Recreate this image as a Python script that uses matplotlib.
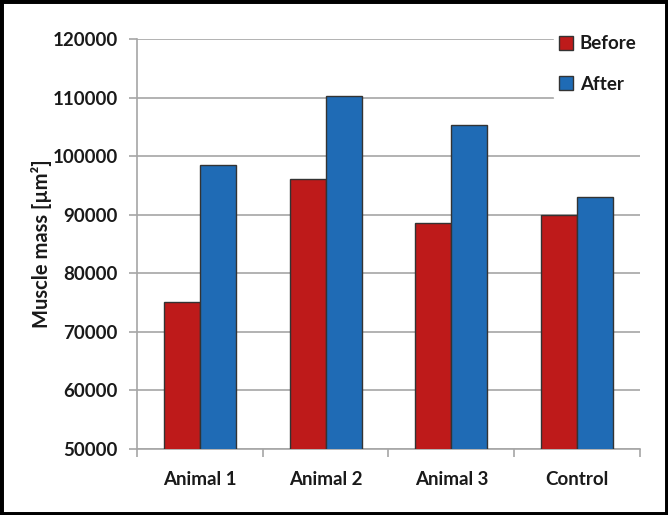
import matplotlib.pyplot as plt
import numpy as np
from matplotlib.patches import Rectangle

categories = ["Animal 1", "Animal 2", "Animal 3", "Control"]
before = [75000, 96100, 88600, 90000]
after = [98500, 110300, 105400, 93000]

plt.rcParams["font.family"] = ["Lato", "DejaVu Sans"]
plt.rcParams["font.weight"] = "bold"

fig = plt.figure(figsize=(6.68, 5.15), dpi=100)
ax = fig.add_axes([0.205, 0.129, 0.753, 0.795])

x = np.arange(len(categories))
w = 0.286
edge = "#333333"
ax.bar(x - w / 2, before, w, color="#BE1A1A", edgecolor=edge, linewidth=1.0, label="Before", zorder=3)
ax.bar(x + w / 2, after, w, color="#1F6BB5", edgecolor=edge, linewidth=1.0, label="After", zorder=3)

ax.set_xlim(-0.5, len(categories) - 0.5)
ax.set_ylim(50000, 120000)
ax.set_yticks(np.arange(50000, 120001, 10000))
ax.grid(axis="y", color="#A6A6A6", linewidth=1.2, zorder=0)

grey = "#A6A6A6"
text_col = "#1a1a1a"
for s in ["top", "right"]:
    ax.spines[s].set_visible(False)
for s in ["left", "bottom"]:
    ax.spines[s].set_color(grey)
    ax.spines[s].set_linewidth(1.2)

ax.set_xticks(x)
ax.set_xticklabels(categories)
ax.set_xticks(np.arange(-0.5, len(categories)), minor=True)
ax.tick_params(axis="x", which="major", length=0, pad=16, labelsize=13.5, colors=text_col)
ax.tick_params(axis="x", which="minor", length=6, width=1.2, color=grey)
ax.tick_params(axis="y", length=6, width=1.2, color=grey, labelsize=13.5, pad=8, labelcolor=text_col)
for lab in ax.get_xticklabels() + ax.get_yticklabels():
    lab.set_fontweight("bold")

ax.set_ylabel("Muscle mass [µm²]", fontsize=14.5, fontweight="bold", color=text_col, labelpad=0)

leg = ax.legend(loc="upper left", bbox_to_anchor=(0.81, 1.046), frameon=True, fancybox=False,
                edgecolor="white", framealpha=1, fontsize=13.5, handlelength=0.75,
                handleheight=0.75, handletextpad=0.35, labelspacing=1.25, borderpad=0.3)
for t in leg.get_texts():
    t.set_fontweight("bold")
    t.set_color(text_col)

fig.patches.append(Rectangle((0, 0), 1, 1, transform=fig.transFigure, fill=False,
                             edgecolor="black", linewidth=5))

fig.savefig("out.png", dpi=100)
